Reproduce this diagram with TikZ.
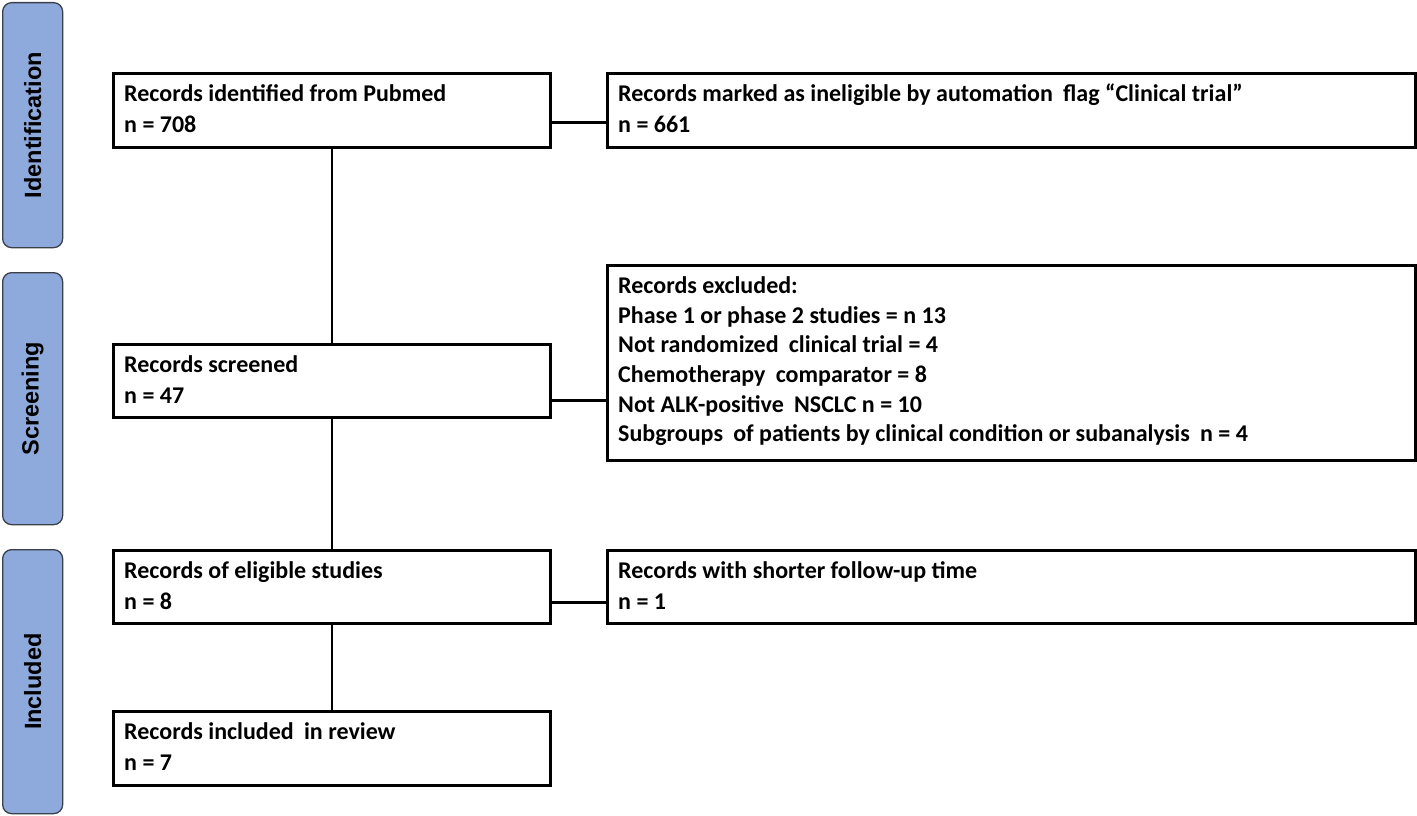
\documentclass[tikz,border=0pt]{standalone}
\usepackage{fontspec}
\setmainfont{Carlito}
\newfontfamily\sidefont{Liberation Sans}
\definecolor{barblue}{HTML}{8EA9DB}
\definecolor{bardraw}{HTML}{3A3F4A}
\begin{document}
\begin{tikzpicture}[x=1pt,y=-1pt,
  box/.style={draw=black, line width=2.6pt, anchor=north west, inner sep=0pt},
  bar/.style={draw=bardraw, fill=barblue, line width=1.3pt, rounded corners=9pt, anchor=north west, inner sep=0pt, minimum width=60pt},
  barlabel/.style={rotate=90, font=\sidefont\bfseries\fontsize{23.5}{28}\selectfont, text=black, inner sep=0pt},
  txt/.style={anchor=base west, inner sep=0pt, font=\bfseries\fontsize{24}{29}\selectfont},
  conn/.style={draw=black, line width=2.6pt}]
\useasboundingbox (0,0) rectangle (1417,816);
% side bars
\node[bar, minimum height=245pt] (sb1) at (2,2) {};
\node[bar, minimum height=252pt] (sb2) at (2,272) {};
\node[bar, minimum height=264pt] (sb3) at (2,549) {};
\node[barlabel] (l1) at (sb1.center) {Identification};
\node[barlabel] (l2) at (sb2.center) {Screening};
\node[barlabel] (l3) at (sb3.center) {Included};
% left boxes
\node[box, minimum width=437pt, minimum height=74pt] (b1) at (112,72) {};
\node[box, minimum width=437pt, minimum height=73pt] (b2) at (112,343) {};
\node[box, minimum width=437pt, minimum height=73pt] (b3) at (112,549) {};
\node[box, minimum width=437pt, minimum height=74pt] (b4) at (112,710) {};
% right boxes
\node[box, minimum width=808pt, minimum height=74pt] (r1) at (606,72) {};
\node[box, minimum width=808pt, minimum height=195pt] (r2) at (606,264) {};
\node[box, minimum width=808pt, minimum height=73pt] (r3) at (606,549) {};
% texts
\node[txt] (t1a) at ([shift={(12pt,-29pt)}]b1.north west) {Records identified from Pubmed};
\node[txt] (t1b) at ([shift={(12pt,-60pt)}]b1.north west) {n = 708};
\node[txt] (t2a) at ([shift={(12pt,-29pt)}]b2.north west) {Records screened};
\node[txt] (t2b) at ([shift={(12pt,-60pt)}]b2.north west) {n = 47};
\node[txt] (t3a) at ([shift={(12pt,-29pt)}]b3.north west) {Records of eligible studies};
\node[txt] (t3b) at ([shift={(12pt,-60pt)}]b3.north west) {n = 8};
\node[txt] (t4a) at ([shift={(12pt,-29pt)}]b4.north west) {Records included\hspace{0.2em} in review};
\node[txt] (t4b) at ([shift={(12pt,-60pt)}]b4.north west) {n = 7};
\node[txt] (s1a) at ([shift={(12pt,-29pt)}]r1.north west) {Records marked as ineligible by automation\hspace{0.2em} flag “Clinical trial”};
\node[txt] (s1b) at ([shift={(12pt,-60pt)}]r1.north west) {n = 661};
\node[txt] (s2a) at ([shift={(12pt,-29pt)}]r2.north west) {Records excluded:};
\node[txt] (s2b) at ([shift={(12pt,-59pt)}]r2.north west) {Phase 1 or phase 2 studies = n 13};
\node[txt] (s2c) at ([shift={(12pt,-88pt)}]r2.north west) {Not randomized\hspace{0.2em} clinical trial = 4};
\node[txt] (s2d) at ([shift={(12pt,-118pt)}]r2.north west) {Chemotherapy\hspace{0.2em} comparator = 8};
\node[txt] (s2e) at ([shift={(12pt,-148pt)}]r2.north west) {Not ALK-positive\hspace{0.2em} NSCLC n = 10};
\node[txt] (s2f) at ([shift={(12pt,-177pt)}]r2.north west) {Subgroups\hspace{0.2em} of patients by clinical condition or subanalysis\hspace{0.2em} n = 4};
\node[txt] (s3a) at ([shift={(12pt,-29pt)}]r3.north west) {Records with shorter follow-up time};
\node[txt] (s3b) at ([shift={(12pt,-60pt)}]r3.north west) {n = 1};
% connectors
\draw[conn] (b1.south) -- (b2.north);
\draw[conn] (b2.south) -- (b3.north);
\draw[conn] (b3.south) -- (b4.north);
\draw[conn] ([yshift=26pt]b1.south east) coordinate (c1) -- (c1 -| r1.west);
\draw[conn] ([yshift=18pt]b2.south east) coordinate (c2) -- (c2 -| r2.west);
\draw[conn] ([yshift=22pt]b3.south east) coordinate (c3) -- (c3 -| r3.west);
\end{tikzpicture}
\end{document}
